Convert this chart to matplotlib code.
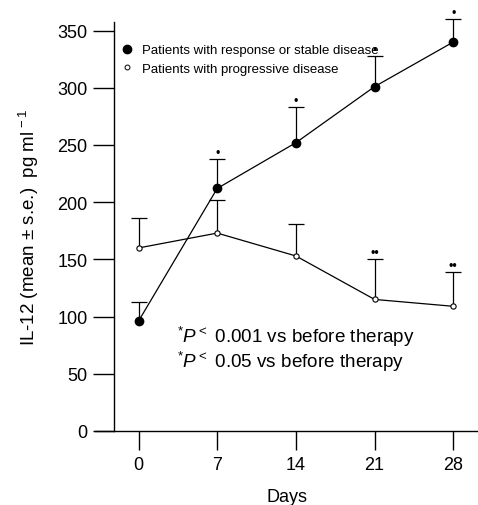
import matplotlib
matplotlib.use("Agg")
import matplotlib.pyplot as plt
from matplotlib.lines import Line2D
import numpy as np

plt.rcParams['font.family'] = ['Liberation Sans', 'DejaVu Sans']
plt.rcParams['mathtext.fontset'] = 'custom'
plt.rcParams['mathtext.rm'] = 'Liberation Sans'
plt.rcParams['mathtext.it'] = 'Liberation Sans:italic'
plt.rcParams['mathtext.bf'] = 'Liberation Sans:bold'

# ---- data ----
days = [0, 7, 14, 21, 28]
resp_mean = [96, 212, 252, 301, 340]
resp_se = [17, 26, 31, 27, 20]
prog_mean = [160, 173, 153, 115, 109]
prog_se = [26, 29, 28, 35, 30]
resp_sig = ['', '•', '•', '•', '•']
prog_sig = ['', '', '', '••', '••']
legend_labels = ['Patients with response or stable disease',
                 'Patients with progressive disease']
yticks = [0, 50, 100, 150, 200, 250, 300, 350]
note_lines = [r'$^{*}\mathit{P}^{<}$ 0.001 vs before therapy',
              r'$^{*}\mathit{P}^{<}$ 0.05 vs before therapy']

W, H = 478, 506
fig = plt.figure(figsize=(W / 100, H / 100), dpi=100)
ax = fig.add_axes([95 / W, (H - 432) / H, 383 / W, 409 / H])

lw = 0.9
d = np.array(days)
rm = np.array(resp_mean); rs = np.array(resp_se)
pm = np.array(prog_mean); ps = np.array(prog_se)

# upper-only error bars
for m, s in ((rm, rs), (pm, ps)):
    ax.vlines(d, m, m + s, colors='black', lw=lw, zorder=2, clip_on=False)
    ax.plot(d, m + s, ls='none', marker='_', ms=11, mew=lw, color='black',
            clip_on=False, zorder=2)

ax.plot(d, rm, '-', color='black', lw=lw, marker='o', ms=6,
        mfc='black', mec='black', clip_on=False, zorder=3)
ax.plot(d, pm, '-', color='black', lw=lw, marker='o', ms=3.8,
        mfc='white', mec='black', mew=0.8, clip_on=False, zorder=3)

for x, top, s in zip(d, rm + rs, resp_sig):
    if s:
        ax.annotate(s, (x, top), xytext=(0, 0), textcoords='offset points',
                    ha='center', va='bottom', fontsize=9, annotation_clip=False)
for x, top, s in zip(d, pm + ps, prog_sig):
    if s:
        ax.annotate(s, (x, top), xytext=(0, 0), textcoords='offset points',
                    ha='center', va='bottom', fontsize=9, annotation_clip=False)

handles = [Line2D([], [], ls='none', marker='o', ms=6, mfc='black', mec='black'),
           Line2D([], [], ls='none', marker='o', ms=3.5, mfc='white', mec='black', mew=0.7)]
ax.legend(handles, legend_labels, loc='upper left', frameon=False,
          bbox_to_anchor=(27 / 383, 1 - 22 / 409), fontsize=9.5, handlelength=0.8,
          handletextpad=0.75, labelspacing=0.5, borderpad=0, borderaxespad=0)

for i, t in enumerate(note_lines):
    ax.text(82 / 383, (432 - 337 - 25 * i) / 409, t, transform=ax.transAxes,
            ha='left', va='center', fontsize=13.6)

ax.set_xlim(-3.87, 30.2)
ax.set_ylim(0, 357.5)
ax.spines['top'].set_visible(False)
ax.spines['right'].set_visible(False)
ax.spines['left'].set_position(('data', -2.18))
for s in ('left', 'bottom'):
    ax.spines[s].set_linewidth(1.0)
ax.set_xticks(days)
ax.set_yticks(yticks)
ax.tick_params(axis='y', direction='out', length=15, width=1.0, pad=4, labelsize=13)
ax.tick_params(axis='x', direction='out', length=14, width=1.0, pad=4, labelsize=13)
ax.set_xlabel('Days', fontsize=13, labelpad=11)
ax.set_ylabel(r'IL-12 (mean $\pm$ s.e.)  pg ml$^{\,-1}$', fontsize=13.5, labelpad=12)

fig.savefig('out.png', dpi=100)
